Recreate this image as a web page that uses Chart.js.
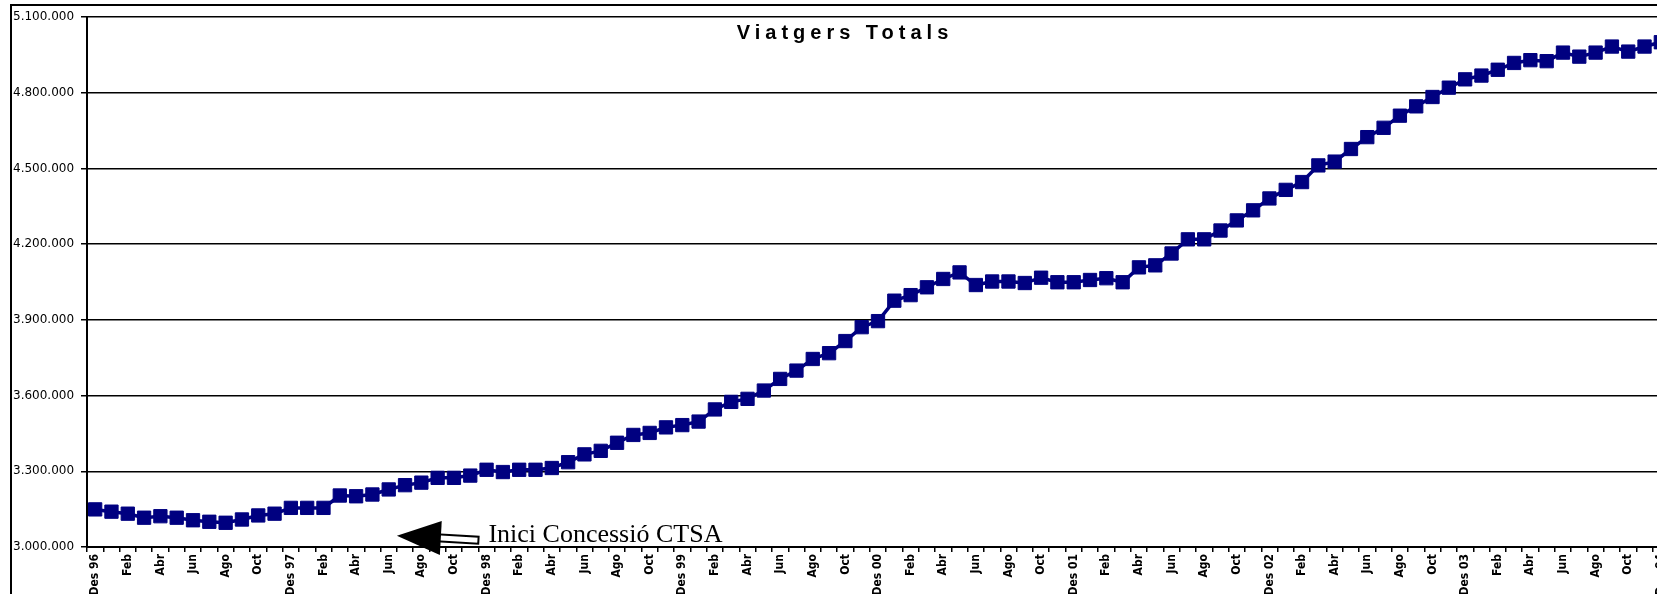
<!DOCTYPE html>
<html>
<head>
<meta charset="utf-8">
<script src="https://cdn.jsdelivr.net/npm/chart.js@4"></script>
<style>
  html, body { margin: 0; padding: 0; background: #fff; overflow: hidden; }
  #wrap { width: 1680px; height: 594px; }
</style>
</head>
<body>
<div id="wrap"><canvas id="canvas-viatgers" width="1680" height="594"></canvas></div>
<script>
// Mesos (des 1996 - des 2004), una etiqueta per mes
var mesos = [
    'Des 96',
    'Gen', 'Feb', 'Mar', 'Abr', 'Mai', 'Jun', 'Jul', 'Ago', 'Set', 'Oct', 'Nov', 'Des 97',
    'Gen', 'Feb', 'Mar', 'Abr', 'Mai', 'Jun', 'Jul', 'Ago', 'Set', 'Oct', 'Nov', 'Des 98',
    'Gen', 'Feb', 'Mar', 'Abr', 'Mai', 'Jun', 'Jul', 'Ago', 'Set', 'Oct', 'Nov', 'Des 99',
    'Gen', 'Feb', 'Mar', 'Abr', 'Mai', 'Jun', 'Jul', 'Ago', 'Set', 'Oct', 'Nov', 'Des 00',
    'Gen', 'Feb', 'Mar', 'Abr', 'Mai', 'Jun', 'Jul', 'Ago', 'Set', 'Oct', 'Nov', 'Des 01',
    'Gen', 'Feb', 'Mar', 'Abr', 'Mai', 'Jun', 'Jul', 'Ago', 'Set', 'Oct', 'Nov', 'Des 02',
    'Gen', 'Feb', 'Mar', 'Abr', 'Mai', 'Jun', 'Jul', 'Ago', 'Set', 'Oct', 'Nov', 'Des 03',
    'Gen', 'Feb', 'Mar', 'Abr', 'Mai', 'Jun', 'Jul', 'Ago', 'Set', 'Oct', 'Nov', 'Des 04'
];

// Viatgers totals (acumulat 12 mesos)
var viatgers = [
    3149000,
    3140000, 3132000, 3116000, 3122000, 3116000, 3106000, 3100000, 3096000, 3109000, 3125000, 3132000, 3155000,
    3155000, 3155000, 3204000, 3201000, 3208000, 3228000, 3245000, 3255000, 3274000, 3274000, 3283000, 3306000,
    3297000, 3306000, 3306000, 3313000, 3336000, 3367000, 3381000, 3413000, 3444000, 3452000, 3474000, 3483000,
    3497000, 3545000, 3575000, 3587000, 3620000, 3666000, 3699000, 3745000, 3768000, 3816000, 3871000, 3895000,
    3976000, 3998000, 4029000, 4062000, 4088000, 4038000, 4052000, 4052000, 4046000, 4067000, 4049000, 4049000,
    4058000, 4065000, 4049000, 4108000, 4116000, 4163000, 4219000, 4219000, 4254000, 4294000, 4334000, 4381000,
    4415000, 4446000, 4512000, 4527000, 4577000, 4624000, 4661000, 4709000, 4746000, 4783000, 4820000, 4853000,
    4868000, 4891000, 4918000, 4929000, 4925000, 4959000, 4943000, 4959000, 4983000, 4963000, 4983000, 5000000
];

var eixY = { min: 3000000, max: 5100000, pas: 300000 };

// Fletxa "Inici Concessio CTSA": punta i cua en unitats de les escales (index de mes, viatgers)
var fletxaPunta = [18.5, 3045000];
var fletxaCua = [23.5, 3027000];
var fletxaText = 'Inici Concessió CTSA';
var titol = 'Viatgers Totals';

function ambPunts(v) {
    return String(v).replace(/\B(?=(\d{3})+(?!\d))/g, '.');
}

// Marc exterior, titol i fletxa
var decoracio = {
    id: 'decoracio',
    beforeDraw: function (chart) {
        var ctx = chart.ctx;
        ctx.save();
        ctx.fillStyle = '#fff';
        ctx.fillRect(0, 0, chart.width, chart.height);
        ctx.strokeStyle = '#000';
        ctx.lineWidth = 2;
        ctx.strokeRect(11, 5, chart.width + 20, chart.height + 20);
        ctx.restore();
    },
    afterDraw: function (chart) {
        var ctx = chart.ctx;
        var sx = chart.scales.x, sy = chart.scales.y;
        ctx.save();

        // titol
        ctx.fillStyle = '#000';
        ctx.font = 'bold 20px "Liberation Sans", Arial, sans-serif';
        ctx.letterSpacing = '5px';
        ctx.textAlign = 'center';
        ctx.textBaseline = 'middle';
        ctx.fillText(titol, 845, 33);
        ctx.letterSpacing = '0px';

        // fletxa
        var px = sx.getPixelForValue(fletxaPunta[0]), py = sy.getPixelForValue(fletxaPunta[1]);
        var qx = sx.getPixelForValue(fletxaCua[0]), qy = sy.getPixelForValue(fletxaCua[1]);
        var dx = qx - px, dy = qy - py, len = Math.sqrt(dx * dx + dy * dy);
        var ux = dx / len, uy = dy / len, nx = -uy, ny = ux;
        var capLen = 44, capW = 17, tija = 3.5;
        var bx = px + ux * capLen, by = py + uy * capLen;

        ctx.lineWidth = 2;
        ctx.strokeStyle = '#000';
        ctx.fillStyle = '#fff';
        ctx.beginPath();
        ctx.moveTo(bx - 4 * ux + nx * tija, by - 4 * uy + ny * tija);
        ctx.lineTo(qx + nx * tija, qy + ny * tija);
        ctx.lineTo(qx - nx * tija, qy - ny * tija);
        ctx.lineTo(bx - 4 * ux - nx * tija, by - 4 * uy - ny * tija);
        ctx.closePath();
        ctx.fill();
        ctx.stroke();

        ctx.fillStyle = '#000';
        ctx.beginPath();
        ctx.moveTo(px, py);
        ctx.lineTo(bx + nx * capW, by + ny * capW);
        ctx.lineTo(bx - nx * capW, by - ny * capW);
        ctx.closePath();
        ctx.fill();

        ctx.font = '26px "Liberation Serif", "Times New Roman", serif';
        ctx.textAlign = 'left';
        ctx.textBaseline = 'alphabetic';
        ctx.fillText(fletxaText, qx + 10, qy + 2);
        ctx.restore();
    }
};

var ctxV = document.getElementById('canvas-viatgers').getContext('2d');
var chartViatgers = new Chart(ctxV, {
    type: 'line',
    data: {
        labels: mesos,
        datasets: [{
            label: titol,
            data: viatgers,
            borderColor: '#000080',
            backgroundColor: '#000080',
            borderWidth: 3.5,
            tension: 0,
            pointStyle: 'rect',
            pointRadius: 9.4,
            pointBorderWidth: 1,
            pointBorderColor: '#000080',
            pointBackgroundColor: '#000080'
        }]
    },
    options: {
        responsive: false, animation: false,
        layout: { padding: { top: 17, left: 13, right: 11, bottom: 0 } },
        plugins: { legend: { display: false }, title: { display: false }, tooltip: { enabled: false } },
        scales: {
            x: {
                type: 'category',
                offset: true,
                grid: { offset: true, drawOnChartArea: false, drawTicks: true, tickLength: 5, color: '#000', lineWidth: 1.5 },
                border: { display: true, color: '#000', width: 2 },
                ticks: {
                    autoSkip: false, maxRotation: 90, minRotation: 90, padding: 2,
                    color: '#000',
                    font: { family: '"Liberation Sans Narrow", "DejaVu Sans Condensed", sans-serif', size: 12, weight: 'bold' },
                    callback: function (val, i) { return i % 2 === 0 ? this.getLabelForValue(val) : ''; }
                },
                afterFit: function (scale) { scale.height = 47; }
            },
            y: {
                min: eixY.min, max: eixY.max,
                grid: { color: '#000', lineWidth: 1.5, drawTicks: true, tickLength: 6 },
                border: { display: true, color: '#000', width: 2 },
                ticks: {
                    stepSize: eixY.pas, crossAlign: 'far', padding: 2, color: '#000',
                    font: { family: '"DejaVu Sans", sans-serif', size: 12 },
                    callback: function (v) { return ambPunts(v); }
                },
                afterFit: function (scale) { scale.width = 74; }
            }
        }
    },
    plugins: [decoracio]
});
</script>
</body>
</html>
